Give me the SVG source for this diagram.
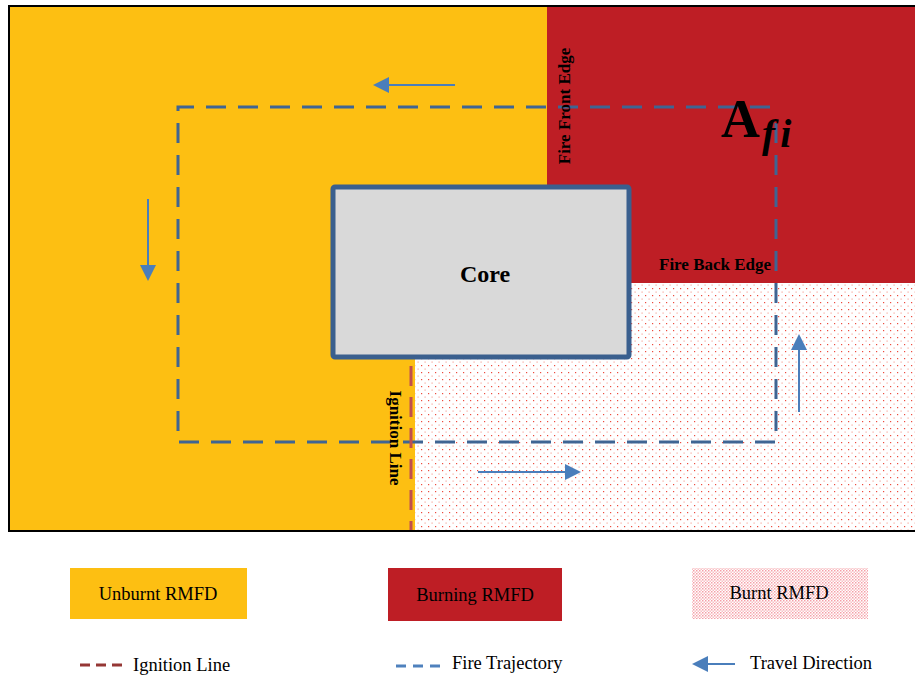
<svg xmlns="http://www.w3.org/2000/svg" width="915" height="678" viewBox="0 0 915 678">
<style>
text{font-family:'Liberation Serif','Times New Roman',serif;fill:#000}
.b{font-weight:bold}
.leg{font-size:18.5px}
.traj{fill:none;stroke:#3F6593;stroke-width:3;stroke-dasharray:20 12}
.arr{stroke:#4A7EBB;stroke-width:2;fill:none}
</style>
<defs>
<pattern id="dots" width="7" height="7" patternUnits="userSpaceOnUse">
<rect width="7" height="7" fill="#fff"/>
<rect x="1" y="1" width="1.2" height="1.2" fill="#EE4B3E"/>
<rect x="4.5" y="4.5" width="1.2" height="1.2" fill="#F7A79D"/>
</pattern>
<pattern id="fine" width="3" height="3" patternUnits="userSpaceOnUse">
<rect width="3" height="3" fill="#fff"/>
<rect x="0" y="0" width="1.5" height="1.5" fill="#F5A0A8"/>
<rect x="1.5" y="1.5" width="1.5" height="1.5" fill="#F8C0C4"/>
</pattern>
<marker id="ah" markerWidth="8" markerHeight="8" refX="7" refY="4" orient="auto" markerUnits="strokeWidth">
<path d="M0,0 L8,4 L0,8 Z" fill="#4A7EBB"/>
</marker>
</defs>

<g id="field">
<rect x="9" y="6" width="910" height="525" fill="#FDBF12" stroke="#000" stroke-width="2"/>
<rect x="547" y="7" width="368" height="276" fill="#BE1E25"/>
<rect x="415" y="283" width="500" height="247" fill="url(#dots)"/>
</g>

<g id="core">
<rect x="333" y="187" width="296" height="170" rx="2" fill="#D9D9D9" stroke="#3A5F8E" stroke-width="5"/>
<text class="b" x="485" y="282" font-size="24" text-anchor="middle">Core</text>
</g>

<g id="connectors">
<path class="traj" d="M770,107 H178 V442 H776 V111"/>
<line x1="411" y1="366" x2="411" y2="530" stroke="#C0504D" stroke-width="3" stroke-dasharray="20 11"/>
<line class="arr" x1="455" y1="85" x2="375" y2="85" marker-end="url(#ah)"/>
<line class="arr" x1="148" y1="199" x2="148" y2="279" marker-end="url(#ah)"/>
<line class="arr" x1="478" y1="472" x2="579" y2="472" marker-end="url(#ah)"/>
<line class="arr" x1="799" y1="412" x2="799" y2="336" marker-end="url(#ah)"/>
</g>

<g id="labels">
<text class="b" font-size="17" text-anchor="middle" transform="translate(570,106) rotate(-90)">Fire Front Edge</text>
<text class="b" font-size="17" text-anchor="middle" transform="translate(390,438) rotate(90)">Ignition Line</text>
<text class="b" x="659" y="270" font-size="17">Fire Back Edge</text>
<text class="b" x="721" y="137" font-size="54">A<tspan font-style="italic" font-size="40" dx="2" dy="10" letter-spacing="5">fi</tspan></text>
</g>

<g id="legend">
<g id="leg-unburnt">
<rect x="70" y="568" width="177" height="51" fill="#FDBF12"/>
<text class="leg" x="158" y="600" text-anchor="middle">Unburnt RMFD</text>
</g>
<g id="leg-burning">
<rect x="388" y="568" width="174" height="53" fill="#BE1E25"/>
<text class="leg" x="475" y="601" text-anchor="middle">Burning RMFD</text>
</g>
<g id="leg-burnt">
<rect x="692" y="568" width="176" height="51" fill="url(#fine)"/>
<text class="leg" x="779" y="599" text-anchor="middle">Burnt RMFD</text>
</g>
<g id="leg-ignition">
<line x1="80" y1="665" x2="126" y2="665" stroke="#953735" stroke-width="3" stroke-dasharray="10 6"/>
<text class="leg" x="133" y="671">Ignition Line</text>
</g>
<g id="leg-traj">
<line x1="396" y1="666" x2="443" y2="666" stroke="#4F81BD" stroke-width="3" stroke-dasharray="10 7"/>
<text class="leg" x="452" y="669">Fire Trajectory</text>
</g>
<g id="leg-travel">
<line class="arr" x1="735" y1="664" x2="694" y2="664" marker-end="url(#ah)"/>
<text class="leg" x="750" y="669">Travel Direction</text>
</g>
</g>
</svg>
